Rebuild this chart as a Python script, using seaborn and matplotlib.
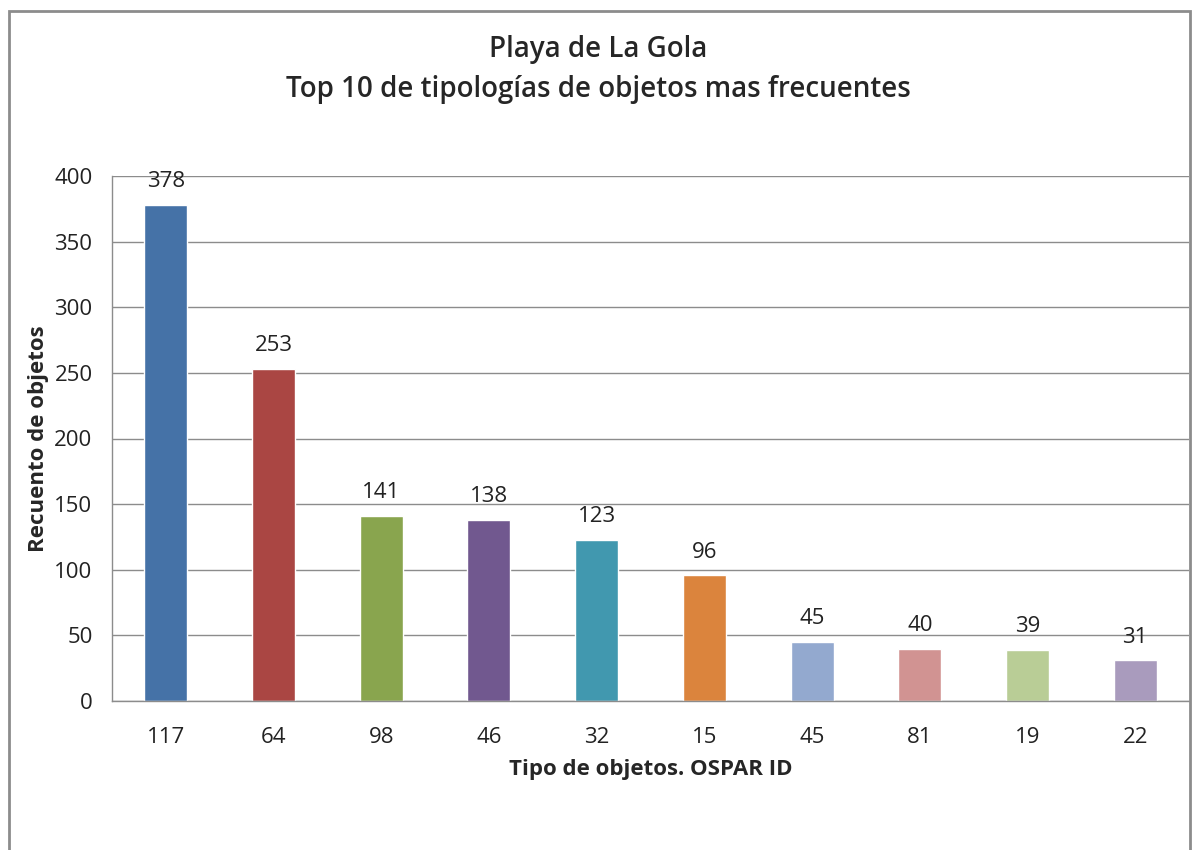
import numpy as np
import pandas as pd
import matplotlib
matplotlib.use("Agg")
import matplotlib.pyplot as plt
import seaborn as sns
from matplotlib.patches import Rectangle

# data
ospar_ids = ["117", "64", "98", "46", "32", "15", "45", "81", "19", "22"]
counts = [378, 253, 141, 138, 123, 96, 45, 40, 39, 31]
colors = ["#4572A7", "#AA4643", "#89A54E", "#71588F", "#4198AF",
          "#DB843D", "#93A9CF", "#D19392", "#B9CD96", "#A99BBD"]
yticks = [0, 50, 100, 150, 200, 250, 300, 350, 400]

df = pd.DataFrame({"id": ospar_ids, "count": counts})

sns.set_style("white")
plt.rcParams["font.family"] = ["Open Sans", "DejaVu Sans"]

fig = plt.figure(figsize=(11.97, 8.5), dpi=100)
ax = fig.add_axes([112 / 1197, 1 - 701 / 850, (1189 - 112) / 1197, (701 - 176) / 850])

sns.barplot(data=df, x="id", y="count", hue="id", palette=colors,
            width=0.4, legend=False, saturation=1, ax=ax)

ax.set_ylim(0, 400)
ax.set_xlim(-0.5, len(ospar_ids) - 0.5)
ax.set_yticks(yticks)
ax.yaxis.grid(True, color="#8c8c8c", linewidth=1)
ax.set_axisbelow(True)

# category boundary ticks, like the original
ax.set_xticks(np.arange(len(ospar_ids) + 1) - 0.5, minor=True)
ax.tick_params(axis="x", which="major", length=0, labelsize=16, pad=19, colors="#222222")
ax.tick_params(axis="x", which="minor", length=9, width=1, color="#8c8c8c")
ax.tick_params(axis="y", length=9, width=1, color="#8c8c8c", labelsize=16, pad=5, colors="#222222")
ax.tick_params(axis="y", colors="#222222")

for s in ["top", "right"]:
    ax.spines[s].set_visible(False)
for s in ["left", "bottom"]:
    ax.spines[s].set_color("#8c8c8c")
    ax.spines[s].set_linewidth(1)

for c in ax.containers:
    ax.bar_label(c, padding=9, fontsize=16, color="#222222")

ax.set_xlabel("Tipo de objetos. OSPAR ID", fontsize=16, fontweight="bold", labelpad=8)
ax.set_ylabel("Recuento de objetos", fontsize=16, fontweight="bold", labelpad=4)

fig.text(0.5, 1 - 49 / 850, "Playa de La Gola", ha="center", va="center",
         fontsize=20, fontweight="semibold")
fig.text(0.5, 1 - 89 / 850, "Top 10 de tipologías de objetos mas frecuentes", ha="center",
         va="center", fontsize=20, fontweight="semibold")

# outer chart frame
fig.patches.append(Rectangle((9 / 1197, -0.1), (1190 - 9) / 1197, 1.1 - 11 / 850,
                             transform=fig.transFigure, fill=False,
                             edgecolor="#8c8c8c", linewidth=2))

fig.savefig("out.png", dpi=100)
